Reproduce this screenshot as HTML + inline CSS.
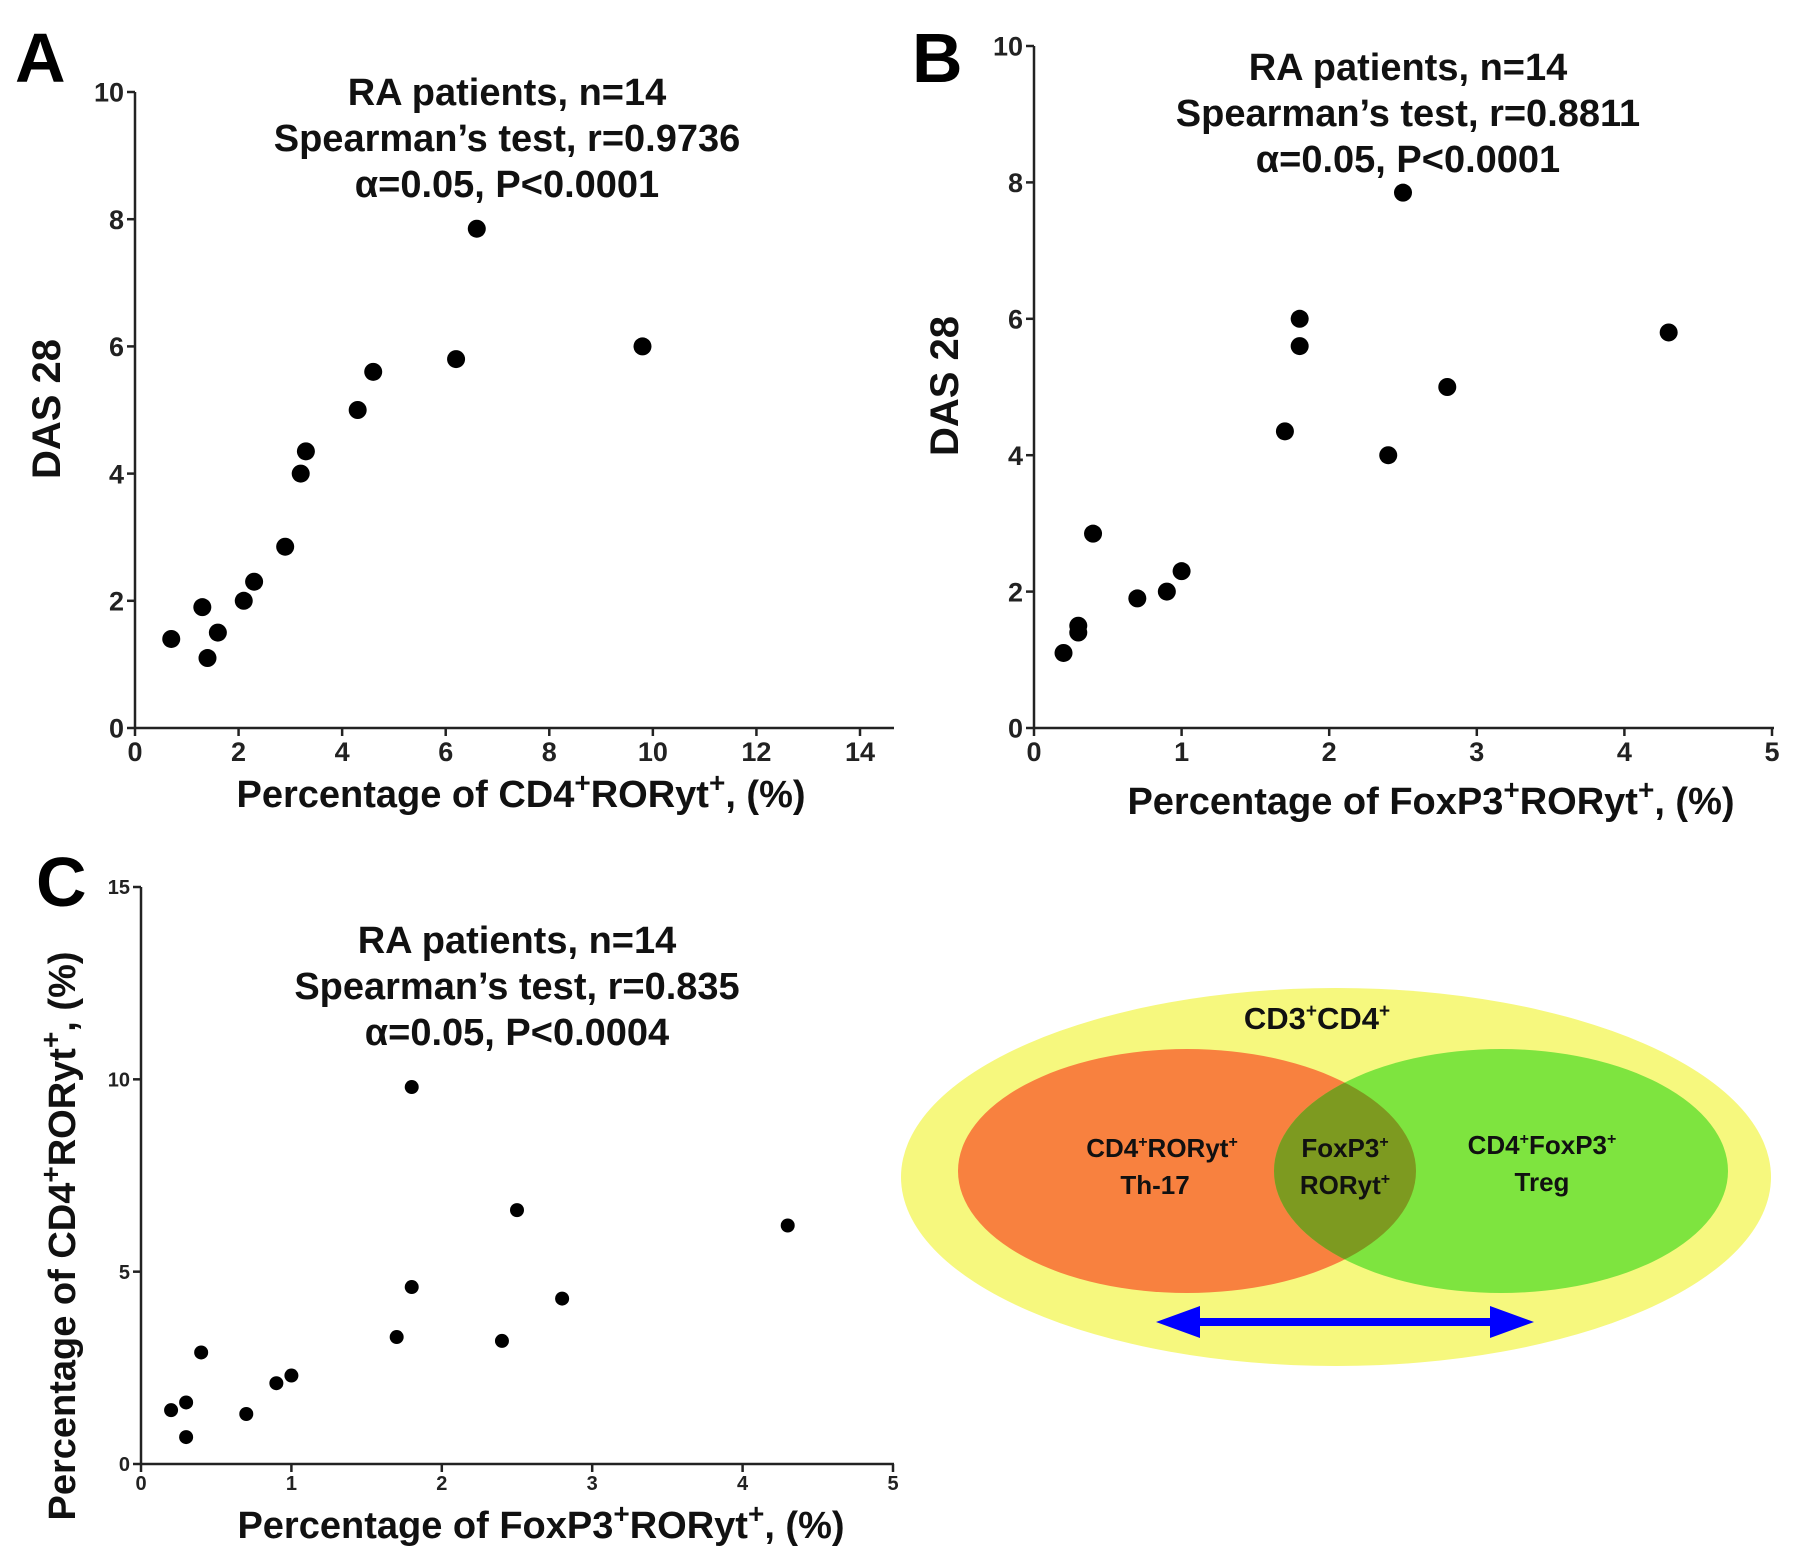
<!DOCTYPE html>
<html><head><meta charset="utf-8"><style>
html,body{margin:0;padding:0;background:#fff;}
svg{display:block;font-family:"Liberation Sans",Arial,sans-serif;}
</style></head><body>
<svg id="fig" width="1795" height="1560" viewBox="0 0 1795 1560" xmlns="http://www.w3.org/2000/svg">
<defs>
<clipPath id="clipOrange"><ellipse cx="1187" cy="1171" rx="229" ry="122"/></clipPath>
</defs>
<g id="venn">
<ellipse cx="1336" cy="1177" rx="435" ry="189" fill="#f6f87e"/>
<ellipse cx="1187" cy="1171" rx="229" ry="122" fill="#f8813f"/>
<ellipse cx="1501" cy="1171" rx="227" ry="122" fill="#7ee43f"/>
<ellipse cx="1501" cy="1171" rx="227" ry="122" fill="#7d9a20" clip-path="url(#clipOrange)"/>
<g font-family="'Liberation Sans Narrow','Liberation Sans',sans-serif" font-weight="bold" fill="#111" text-anchor="middle">
<text x="1317" y="1029" font-size="31">CD3<tspan font-size="19" dy="-12">+</tspan><tspan dy="12">CD4</tspan><tspan font-size="19" dy="-12">+</tspan></text>
<text x="1162" y="1157" font-size="26">CD4<tspan font-size="16" dy="-10">+</tspan><tspan dy="10">RORyt</tspan><tspan font-size="16" dy="-10">+</tspan></text>
<text x="1155" y="1194" font-size="26">Th-17</text>
<text x="1345" y="1157" font-size="26">FoxP3<tspan font-size="16" dy="-10">+</tspan></text>
<text x="1345" y="1194" font-size="26">RORyt<tspan font-size="16" dy="-10">+</tspan></text>
<text x="1542" y="1154" font-size="26">CD4<tspan font-size="16" dy="-10">+</tspan><tspan dy="10">FoxP3</tspan><tspan font-size="16" dy="-10">+</tspan></text>
<text x="1542" y="1191" font-size="26">Treg</text>
</g>
<g fill="#0000ff">
<rect x="1190" y="1318" width="310" height="8"/>
<polygon points="1156,1322 1200,1306 1200,1338"/>
<polygon points="1534,1322 1490,1306 1490,1338"/>
</g>
</g>
</svg>
<script>
// Panel A data
const aX = [0.7,1.3,1.4,1.6,2.1,2.3,2.9,3.2,3.3,4.3,4.6,6.2,6.6,9.8];
const aY = [1.4,1.9,1.1,1.5,2.0,2.3,2.85,4.0,4.35,5.0,5.6,5.8,7.85,6.0];
const aXTicks = [0,2,4,6,8,10,12,14];
const aYTicks = [0,2,4,6,8,10];
// Panel B data
const bX = [0.2,0.3,0.3,0.4,0.7,0.9,1.0,1.7,1.8,1.8,2.4,2.5,2.8,4.3];
const bY = [1.1,1.4,1.5,2.85,1.9,2.0,2.3,4.35,5.6,6.0,4.0,7.85,5.0,5.8];
const bXTicks = [0,1,2,3,4,5];
const bYTicks = [0,2,4,6,8,10];
// Panel C data
const cX = [0.2,0.3,0.3,0.4,0.7,0.9,1.0,1.7,1.8,1.8,2.4,2.5,2.8,4.3];
const cY = [1.4,1.6,0.7,2.9,1.3,2.1,2.3,3.3,4.6,9.8,3.2,6.6,4.3,6.2];
const cXTicks = [0,1,2,3,4,5];
const cYTicks = [0,5,10,15];

const NS = 'http://www.w3.org/2000/svg';
const svg = document.getElementById('fig');
function mk(tag, attrs, parent, text){
  const e = document.createElementNS(NS, tag);
  for (const k in attrs) e.setAttribute(k, attrs[k]);
  if (text !== undefined) e.textContent = text;
  parent.appendChild(e);
  return e;
}
function panel(o){
  const g = mk('g', {}, svg);
  
  
  const sx = v => o.x0 + (v - o.xmin) / (o.xmax - o.xmin) * (o.x1 - o.x0);
  const sy = v => o.y0 - (v - o.ymin) / (o.ymax - o.ymin) * (o.y0 - o.y1);
  const xa = mk('line', {x1:o.x0, y1:o.y0, x2:o.xend, y2:o.y0, stroke:'#222', 'stroke-width':2.5}, g);
  
  
  const ya = mk('line', {x1:o.x0, y1:o.y0, x2:o.x0, y2:o.y1, stroke:'#222', 'stroke-width':2.5}, g);
  
  
  o.xt.forEach(v => {
    const X = sx(v);
    mk('line', {x1:X, y1:o.y0, x2:X, y2:o.y0+8, stroke:'#222', 'stroke-width':2.5}, g);
    const t = mk('text', {x:X, y:o.y0+6+o.tf, 'font-size':o.tf, 'font-weight':'bold', 'text-anchor':'middle', fill:'#222'}, g, String(v));
    
    
  });
  o.yt.forEach(v => {
    const Y = sy(v);
    mk('line', {x1:o.x0-8, y1:Y, x2:o.x0, y2:Y, stroke:'#222', 'stroke-width':2.5}, g);
    const t = mk('text', {x:o.x0-11, y:Y+o.tf*0.36, 'font-size':o.tf, 'font-weight':'bold', 'text-anchor':'end', fill:'#222'}, g, String(v));
    
    
  });
  o.xs.forEach((v, i) => {
    const c = mk('circle', {cx:sx(v), cy:sy(o.ys[i]), r:o.r, fill:'#000'}, g);
    
    
  });
  o.title.forEach((s, i) => {
    const t = mk('text', {x:o.tx, y:o.ty + i*46, 'font-size':38, 'font-weight':'bold', 'text-anchor':'middle', fill:'#111'}, g, s);
    
    
  });
  const L = mk('text', {x:o.lx, y:o.ly, 'font-size':70, 'font-weight':'bold', fill:'#000'}, g, o.letter);
  
  
  const xt = mk('text', {x:o.xtx, y:o.xty, 'font-size':38, 'font-weight':'bold', 'text-anchor':'middle', fill:'#111'}, g);
  xt.innerHTML = o.xtitle;
  
  
  const yt = mk('text', {x:0, y:0, 'font-size':o.ytf, 'font-weight':'bold', 'text-anchor':'middle', fill:'#111', transform:`translate(${o.ytx},${o.yty}) rotate(-90)`}, g);
  yt.innerHTML = o.ytitle;
  
  
}
const sup = '<tspan font-size="28" dy="-15">+</tspan><tspan dy="15">';
panel({name:'panel-a', x0:135, x1:860, xend:894, y0:728, y1:92, xmin:0, xmax:14, ymin:0, ymax:10,
  xt:aXTicks, yt:aYTicks, xs:aX, ys:aY, r:9, tf:27,
  title:['RA patients, n=14','Spearman\u2019s test, r=0.9736','\u03b1=0.05, P<0.0001'], tx:507, ty:105,
  letter:'A', lx:15, ly:82, xtx:521, xty:807,
  xtitle:'Percentage of CD4'+sup+'RORyt</tspan>'+sup+', (%)</tspan>', ytx:60, yty:409, ytf:40, ytitle:'DAS 28'});
panel({name:'panel-b', x0:1034, x1:1772, xend:1774, y0:728, y1:46, xmin:0, xmax:5, ymin:0, ymax:10,
  xt:bXTicks, yt:bYTicks, xs:bX, ys:bY, r:9, tf:27,
  title:['RA patients, n=14','Spearman\u2019s test, r=0.8811','\u03b1=0.05, P<0.0001'], tx:1408, ty:80,
  letter:'B', lx:912, ly:82, xtx:1431, xty:814,
  xtitle:'Percentage of FoxP3'+sup+'RORyt</tspan>'+sup+', (%)</tspan>', ytx:958, yty:386, ytf:40, ytitle:'DAS 28'});
panel({name:'panel-c', x0:141, x1:893, xend:894, y0:1464, y1:887, xmin:0, xmax:5, ymin:0, ymax:15,
  xt:cXTicks, yt:cYTicks, xs:cX, ys:cY, r:7, tf:20,
  title:['RA patients, n=14','Spearman\u2019s test, r=0.835','\u03b1=0.05, P<0.0004'], tx:517, ty:953,
  letter:'C', lx:36, ly:906, xtx:541, xty:1538,
  xtitle:'Percentage of FoxP3'+sup+'RORyt</tspan>'+sup+', (%)</tspan>', ytx:75, yty:1236, ytf:38,
  ytitle:'Percentage of CD4'+sup+'RORyt</tspan>'+sup+', (%)</tspan>'});
</script>
</body></html>
